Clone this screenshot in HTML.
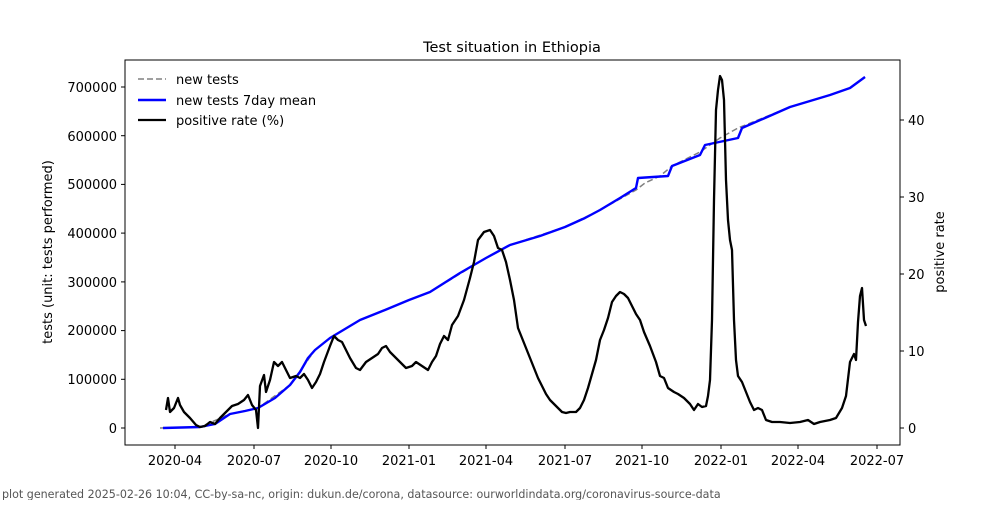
<!DOCTYPE html>
<html><head><meta charset="utf-8"><style>
body{margin:0;background:#fff;}
svg text{font-family:"DejaVu Sans","Liberation Sans",sans-serif;}
</style></head><body>
<svg width="1000" height="500" xmlns="http://www.w3.org/2000/svg">
<rect width="1000" height="500" fill="#fff"/>
<text x="512" y="52" font-size="14.5" text-anchor="middle">Test situation in Ethiopia</text>
<rect x="125" y="60" width="775" height="385" fill="none" stroke="#000" stroke-width="1"/>
<g font-size="13" text-anchor="end">
<g stroke="#000"><line x1="121" y1="428" x2="125" y2="428"/><line x1="121" y1="379.3" x2="125" y2="379.3"/><line x1="121" y1="330.6" x2="125" y2="330.6"/><line x1="121" y1="281.9" x2="125" y2="281.9"/><line x1="121" y1="233.1" x2="125" y2="233.1"/><line x1="121" y1="184.4" x2="125" y2="184.4"/><line x1="121" y1="135.7" x2="125" y2="135.7"/><line x1="121" y1="87" x2="125" y2="87"/></g>
<text x="117" y="433">0</text><text x="117" y="384">100000</text><text x="117" y="335">200000</text><text x="117" y="287">300000</text><text x="117" y="238">400000</text><text x="117" y="189">500000</text><text x="117" y="141">600000</text><text x="117" y="92">700000</text>
</g>
<g font-size="13">
<g stroke="#000"><line x1="900" y1="428" x2="904" y2="428"/><line x1="900" y1="351" x2="904" y2="351"/><line x1="900" y1="274" x2="904" y2="274"/><line x1="900" y1="197" x2="904" y2="197"/><line x1="900" y1="120" x2="904" y2="120"/></g>
<text x="908" y="433">0</text><text x="908" y="356">10</text><text x="908" y="279">20</text><text x="908" y="202">30</text><text x="908" y="125">40</text>
</g>
<g font-size="13" text-anchor="middle" stroke="none">
<g stroke="#000"><line x1="175" y1="445" x2="175" y2="449"/><line x1="254" y1="445" x2="254" y2="449"/><line x1="331" y1="445" x2="331" y2="449"/><line x1="409" y1="445" x2="409" y2="449"/><line x1="486" y1="445" x2="486" y2="449"/><line x1="565" y1="445" x2="565" y2="449"/><line x1="642" y1="445" x2="642" y2="449"/><line x1="721" y1="445" x2="721" y2="449"/><line x1="798" y1="445" x2="798" y2="449"/><line x1="877" y1="445" x2="877" y2="449"/></g>
<text x="175" y="465">2020-04</text><text x="254" y="465">2020-07</text><text x="331" y="465">2020-10</text><text x="409" y="465">2021-01</text><text x="486" y="465">2021-04</text><text x="565" y="465">2021-07</text><text x="642" y="465">2021-10</text><text x="721" y="465">2022-01</text><text x="798" y="465">2022-04</text><text x="877" y="465">2022-07</text>
</g>
<text transform="translate(52,252) rotate(-90)" font-size="13" text-anchor="middle">tests (unit: tests performed)</text>
<text transform="translate(944,252) rotate(-90)" font-size="13" text-anchor="middle">positive rate</text>
<polyline fill="none" stroke="#808080" stroke-width="1.5" stroke-dasharray="6,3" points="160,428 200,427 230,414 258,408 290,385 315,350 330,338 360,320 409,300 430,292 486,258 510,245 565,227 600,210 636,190 645,183 660,176 672,166 700,152 720,138 738,128 790,107 830,95 850,88 865,77"/>
<polyline fill="none" stroke="#0000ff" stroke-width="2.4" stroke-linejoin="round" points="163,428 200,427 215,424 230,414 245,411 258,408 275,398 290,385 300,372 308,358 315,350 330,338 345,329 360,320 385,310 409,300 430,292 460,273 486,258 510,245 540,236 565,227 585,218 600,210 620,198 636,188 638,178 668,176 672,166 700,155 705,145 738,138 742,128 765,118 790,107 830,95 850,88 865,77"/>
<polyline fill="none" stroke="#000" stroke-width="2.3" stroke-linejoin="round" points="166,410 168,398 170,412 174,408 178,398 180,405 184,412 190,418 196,425 200,427 205,426 210,422 215,424 220,418 226,412 232,406 238,404 244,400 248,395 252,405 256,410 258,428 260,386 264,375 266,392 270,380 274,362 278,366 282,362 286,370 290,378 296,376 300,378 304,374 308,380 312,388 316,382 320,374 324,362 330,346 334,336 338,340 342,342 346,350 350,358 356,368 360,370 366,362 372,358 378,354 382,348 386,346 390,352 396,358 402,364 406,368 412,366 416,362 422,366 428,370 432,362 436,356 440,344 444,336 448,340 452,325 458,316 464,300 470,278 474,262 478,240 484,232 490,230 494,236 498,248 502,250 506,262 510,280 514,300 518,328 522,338 526,348 530,358 534,368 538,378 542,386 546,394 550,400 554,404 558,408 562,412 566,413 570,412 576,412 580,408 584,400 588,388 592,374 596,360 600,340 604,330 608,318 612,302 616,296 620,292 624,294 628,298 632,306 636,314 640,320 644,332 650,346 656,362 660,376 664,378 668,388 674,392 678,394 684,398 690,404 694,410 698,404 702,407 706,406 708,396 710,380 712,320 714,200 716,110 718,90 720,76 722,80 724,100 726,180 728,220 730,240 732,250 734,320 736,360 738,376 742,382 746,392 750,402 754,410 758,408 762,410 766,420 772,422 780,422 790,423 800,422 808,420 814,424 820,422 830,420 836,418 842,408 846,396 850,362 854,354 856,360 858,322 860,296 862,288 864,320 866,326"/>
<g font-size="13">
<line x1="138" y1="79" x2="166" y2="79" stroke="#808080" stroke-width="1.5" stroke-dasharray="6,3"/><text x="176" y="84">new tests</text>
<line x1="138" y1="100" x2="166" y2="100" stroke="#0000ff" stroke-width="2.4"/><text x="176" y="105">new tests 7day mean</text>
<line x1="138" y1="120" x2="166" y2="120" stroke="#000" stroke-width="2.3"/><text x="176" y="125">positive rate (%)</text>
</g>
<text x="2" y="498" font-size="11.1" fill="#555">plot generated 2025-02-26 10:04, CC-by-sa-nc, origin: dukun.de/corona, datasource: ourworldindata.org/coronavirus-source-data</text>
</svg>
</body></html>
